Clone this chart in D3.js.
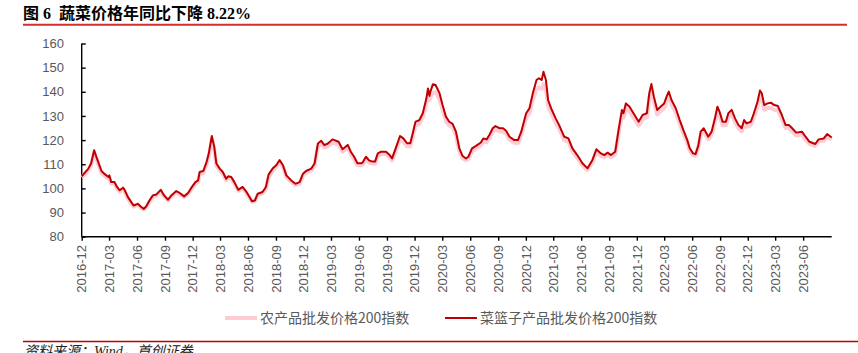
<!DOCTYPE html>
<html>
<head>
<meta charset="utf-8">
<script src="https://cdn.jsdelivr.net/npm/d3@7"></script>
<style>
  body { margin: 0; background: #fff; }
  svg { display: block; }
</style>
</head>
<body>
<svg id="chart"></svg>
<script>
const dates = [
  "2016-12-01","2016-12-23","2017-01-01","2017-01-11","2017-01-20","2017-02-04","2017-02-16","2017-02-27","2017-03-02","2017-03-08",
  "2017-03-19","2017-03-27","2017-04-05","2017-04-16","2017-04-21","2017-05-02","2017-05-13","2017-05-21","2017-06-04","2017-06-13",
  "2017-06-23","2017-07-01","2017-07-12","2017-07-23","2017-08-04","2017-08-18","2017-08-29","2017-09-11","2017-09-22","2017-10-08",
  "2017-10-19","2017-11-03","2017-11-16","2017-11-27","2017-12-10","2017-12-19","2017-12-24","2018-01-05","2018-01-16","2018-01-23",
  "2018-02-02","2018-02-10","2018-02-17","2018-02-28","2018-03-10","2018-03-21","2018-03-28","2018-04-07","2018-04-17","2018-04-30",
  "2018-05-14","2018-05-25","2018-06-06","2018-06-14","2018-06-24","2018-07-03","2018-07-19","2018-07-30","2018-08-08","2018-08-21",
  "2018-09-02","2018-09-13","2018-09-24","2018-10-05","2018-10-21","2018-11-04","2018-11-18","2018-11-29","2018-12-09","2018-12-26",
  "2019-01-06","2019-01-17","2019-01-28","2019-02-07","2019-02-19","2019-03-06","2019-03-26","2019-04-08","2019-04-25","2019-05-05",
  "2019-05-16","2019-05-27","2019-06-08","2019-06-13","2019-06-24","2019-07-05","2019-07-16","2019-07-24","2019-08-02","2019-08-13",
  "2019-08-29","2019-09-10","2019-09-18","2019-10-01","2019-10-14","2019-10-25","2019-11-06","2019-11-17","2019-11-25","2019-12-04",
  "2019-12-17","2019-12-28","2020-01-09","2020-01-14","2020-01-19","2020-01-22","2020-01-30","2020-02-08","2020-02-21","2020-03-02",
  "2020-03-13","2020-03-24","2020-04-04","2020-04-15","2020-04-26","2020-05-07","2020-05-18","2020-05-26","2020-06-07","2020-06-20",
  "2020-07-06","2020-07-14","2020-07-25","2020-08-03","2020-08-14","2020-08-23","2020-09-06","2020-09-17","2020-09-27","2020-10-08",
  "2020-10-24","2020-11-05","2020-11-16","2020-12-02","2020-12-13","2020-12-24","2021-01-05","2021-01-13","2021-01-22","2021-01-28",
  "2021-02-05","2021-02-12","2021-02-22","2021-03-09","2021-03-20","2021-04-06","2021-04-20","2021-05-03","2021-05-19","2021-06-05",
  "2021-06-22","2021-07-08","2021-07-21","2021-08-05","2021-08-16","2021-08-27","2021-09-07","2021-09-21","2021-10-02","2021-10-13",
  "2021-10-18","2021-10-26","2021-11-07","2021-11-20","2021-12-07","2021-12-20","2022-01-03","2022-01-11","2022-01-18","2022-01-26",
  "2022-02-06","2022-02-17","2022-03-01","2022-03-08","2022-03-16","2022-03-25","2022-04-08","2022-04-21","2022-05-05","2022-05-16",
  "2022-05-24","2022-06-04","2022-06-12","2022-06-21","2022-06-29","2022-07-09","2022-07-24","2022-08-04","2022-08-15","2022-08-23",
  "2022-08-30","2022-09-09","2022-09-20","2022-09-28","2022-10-09","2022-10-20","2022-10-31","2022-11-11","2022-11-19","2022-11-27",
  "2022-12-11","2022-12-21","2023-01-02","2023-01-10","2023-01-16","2023-01-24","2023-02-04","2023-02-15","2023-02-26","2023-03-10",
  "2023-03-23","2023-04-04","2023-04-15","2023-04-26","2023-05-09","2023-05-28","2023-06-09","2023-06-22","2023-07-11","2023-07-22",
  "2023-08-08","2023-08-19","2023-09-03"
];

// 菜篮子产品批发价格200指数
const basketIndex = [
  105.0,108.2,110.3,115.8,112.4,107.2,105.8,104.7,105.4,102.6,
  102.6,100.6,99.2,100.3,99.4,96.4,94.3,92.9,93.6,92.5,
  91.5,92.5,95.0,97.1,97.5,99.4,97.1,95.3,97.1,98.9,
  98.1,96.7,98.1,100.3,102.6,103.3,106.8,107.2,111.0,114.4,
  121.7,117.2,110.3,108.2,106.8,104.0,105.0,104.7,102.6,99.4,
  100.6,98.9,96.4,94.7,95.0,97.8,98.5,100.6,105.8,108.2,
  109.6,111.7,109.6,105.4,103.3,101.9,102.6,106.1,107.2,108.2,
  110.3,118.6,119.7,117.9,118.6,120.3,119.3,116.2,118.0,115.2,
  113.1,110.4,110.4,110.7,113.1,111.5,111.1,111.1,114.5,115.2,
  115.2,113.8,112.4,117.0,121.7,120.7,118.7,118.7,122.8,127.6,
  128.3,131.1,137.3,141.4,138.3,140.1,143.1,142.8,139.4,134.5,
  129.7,127.6,126.7,123.5,116.6,113.4,112.4,113.1,116.6,117.6,
  119.0,120.7,120.3,122.1,124.9,125.8,124.9,124.9,123.9,121.4,
  120.0,120.0,123.5,131.1,133.2,139.4,144.9,145.6,144.9,148.3,
  144.9,136.6,133.2,129.0,126.3,121.4,120.7,116.6,113.8,110.4,
  108.3,111.8,116.2,114.5,113.8,114.8,113.8,115.2,124.2,132.5,
  131.1,135.2,133.8,131.1,127.6,130.4,131.1,139.4,143.2,138.0,
  132.5,133.8,135.2,137.7,140.1,136.6,133.2,128.3,123.5,120.0,
  116.6,114.5,114.2,117.6,123.5,124.9,121.4,123.5,129.0,133.8,
  131.8,127.6,127.6,131.1,132.5,129.0,126.3,124.9,128.3,126.9,
  127.6,131.1,135.9,140.5,139.4,134.5,135.2,135.5,134.5,134.1,
  130.4,126.3,126.3,124.9,123.1,123.5,121.4,119.3,118.4,120.3,
  120.7,122.5,121.1
];

// 农产品批发价格200指数
const farmIndex = [
  104.6,107.4,109.5,115.0,111.5,106.3,105.0,104.0,104.3,102.0,
  101.9,100.0,98.6,99.6,98.8,95.8,93.6,92.4,93.4,92.0,
  91.4,92.2,94.5,96.4,97.0,98.6,96.6,95.0,96.6,98.2,
  97.6,96.4,97.6,99.7,101.9,102.6,105.8,106.4,110.0,113.2,
  120.3,116.2,109.5,107.4,106.0,103.4,104.3,104.0,102.0,99.0,
  100.0,98.4,96.0,94.5,94.8,97.2,98.0,99.8,104.8,107.3,
  108.8,110.8,108.8,104.8,102.7,101.4,102.0,105.3,106.5,107.4,
  109.4,117.4,118.4,116.9,117.5,119.0,118.1,115.2,116.9,114.3,
  112.2,109.6,109.5,109.8,112.1,110.6,110.3,110.2,113.4,114.2,
  114.2,112.8,111.6,115.9,120.4,119.4,117.5,117.4,121.4,126.0,
  126.8,129.4,135.2,138.5,136.5,137.8,139.6,139.8,136.9,132.6,
  128.0,126.0,125.2,122.0,115.4,112.4,111.6,112.2,115.4,116.5,
  117.8,119.4,119.1,120.8,123.5,124.4,123.6,123.5,122.6,120.2,
  118.9,118.8,122.1,129.2,131.2,136.8,141.2,141.8,141.3,143.2,
  141.0,134.2,131.2,127.3,124.8,120.0,119.3,115.4,112.7,109.5,
  107.6,110.8,115.0,113.5,112.9,113.8,112.9,114.2,122.6,130.5,
  129.3,133.2,131.9,129.4,126.0,128.7,129.4,137.3,141.0,136.0,
  130.6,132.0,133.3,135.6,137.9,134.7,131.5,126.8,122.2,118.9,
  115.6,113.7,113.5,116.6,122.2,123.5,120.3,122.2,127.4,131.8,
  130.0,126.1,126.1,129.4,130.7,127.5,125.0,123.6,126.8,125.5,
  126.2,129.4,134.0,138.2,137.3,132.6,133.2,133.4,132.6,132.3,
  128.8,125.0,125.0,123.6,121.9,122.3,120.3,118.4,117.6,119.4,
  119.8,121.4,120.2
];

const yTicks = [80, 90, 100, 110, 120, 130, 140, 150, 160];
const seriesNames = ["农产品批发价格200指数", "菜篮子产品批发价格200指数"];
const seriesColors = ["#FFCCD5", "#C00000"];

const width = 858, height = 353;
const plotLeft = 81.7, plotRight = 831.7, plotTop = 43.5, plotBottom = 236.7;
const gray = "#595959";
const axisFont = "'Liberation Sans', Arial, sans-serif";
const cjkFont = "'Noto Sans CJK SC', sans-serif";

const parse = d3.timeParse("%Y-%m-%d");
const xDates = dates.map(parse);

const svg = d3.select("#chart").attr("width", width).attr("height", height);

// title and rules
svg.append("text")
  .attr("x", 23).attr("y", 19)
  .attr("font-family", "'Liberation Serif', 'Noto Sans CJK SC', serif")
  .attr("font-weight", "bold")
  .attr("font-size", 16)
  .attr("fill", "#000")
  .attr("xml:space", "preserve")
  .text("图 6  蔬菜价格年同比下降 8.22%");
svg.append("line")
  .attr("x1", 23).attr("x2", 847).attr("y1", 24.8).attr("y2", 24.8)
  .attr("stroke", "#D32F2F").attr("stroke-width", 2);
svg.append("line")
  .attr("x1", 23).attr("x2", 858).attr("y1", 341.5).attr("y2", 341.5)
  .attr("stroke", "#C00000").attr("stroke-width", 1.5);
svg.append("text")
  .attr("x", 24).attr("y", 356)
  .attr("font-family", "'Liberation Serif', 'Noto Sans CJK SC', serif")
  .attr("font-style", "italic")
  .attr("font-size", 14)
  .attr("fill", "#222")
  .text("资料来源：Wind，首创证券");

const x = d3.scaleTime()
  .domain([parse("2016-12-01"), parse("2023-09-03")])
  .range([plotLeft, plotRight]);
const y = d3.scaleLinear().domain([80, 160]).range([plotBottom, plotTop]);

// y axis
const yAxis = svg.append("g")
  .attr("transform", `translate(${plotLeft},0)`)
  .call(d3.axisRight(y).tickValues(yTicks).tickSize(4).tickFormat(""));
yAxis.select(".domain").attr("stroke", "#000").attr("stroke-width", 1.4)
  .attr("d", `M0,${plotTop}V${plotBottom}`);
yAxis.selectAll(".tick line").attr("stroke", "#000").attr("stroke-width", 1.4);
svg.selectAll(".ylab")
  .data(yTicks).enter()
  .append("text")
  .attr("class", "ylab")
  .attr("x", 64)
  .attr("y", d => y(d))
  .attr("dy", "0.36em")
  .attr("text-anchor", "end")
  .attr("font-family", axisFont)
  .attr("font-size", 13)
  .attr("fill", gray)
  .text(d => d);

// x axis: every 3 months from 2016-12
const xTicks = d3.timeMonth.range(parse("2016-12-01"), parse("2023-07-01"), 3);
const xAxis = svg.append("g")
  .attr("transform", `translate(0,${plotBottom})`)
  .call(d3.axisBottom(x).tickValues(xTicks).tickSize(4).tickFormat(""));
xAxis.select(".domain").attr("stroke", "#000").attr("stroke-width", 1.4)
  .attr("d", `M${plotLeft},0H${plotRight}`);
xAxis.selectAll(".tick line").attr("stroke", "#000").attr("stroke-width", 1.4);
const fmt = d3.timeFormat("%Y-%m");
svg.selectAll(".xlab")
  .data(xTicks).enter()
  .append("text")
  .attr("class", "xlab")
  .attr("transform", d => `translate(${x(d)},245) rotate(-90)`)
  .attr("dy", "0.36em")
  .attr("text-anchor", "end")
  .attr("font-family", axisFont)
  .attr("font-size", 13)
  .attr("fill", gray)
  .text(d => fmt(d));

// lines
const line = vals => d3.line()
  .x((d, i) => x(xDates[i]))
  .y(d => y(d))(vals);

svg.append("path")
  .attr("d", line(farmIndex))
  .attr("fill", "none")
  .attr("stroke", seriesColors[0])
  .attr("stroke-width", 4)
  .attr("stroke-linejoin", "round");
svg.append("path")
  .attr("d", line(basketIndex))
  .attr("fill", "none")
  .attr("stroke", seriesColors[1])
  .attr("stroke-width", 2)
  .attr("stroke-linejoin", "round");

// legend
const legend = [
  {name: seriesNames[0], color: seriesColors[0], w: 4, x: 225},
  {name: seriesNames[1], color: seriesColors[1], w: 2, x: 445}
];
const lg = svg.selectAll(".legend").data(legend).enter()
  .append("g").attr("class", "legend");
lg.append("line")
  .attr("x1", d => d.x).attr("x2", d => d.x + 32)
  .attr("y1", 318).attr("y2", 318)
  .attr("stroke", d => d.color).attr("stroke-width", d => d.w);
lg.append("text")
  .attr("x", d => d.x + 35).attr("y", 318)
  .attr("dy", "0.36em")
  .attr("font-family", cjkFont)
  .attr("font-size", 14)
  .attr("fill", gray)
  .text(d => d.name);
</script>
</body>
</html>
